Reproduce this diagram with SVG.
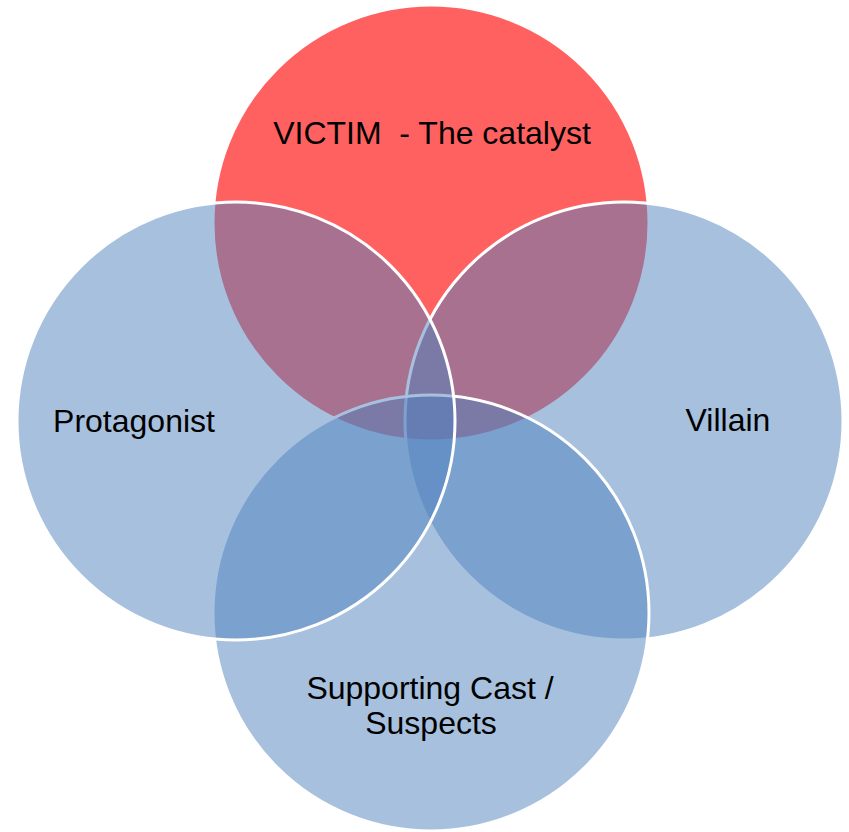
<svg xmlns="http://www.w3.org/2000/svg" width="849" height="832" viewBox="0 0 849 832">
  <style>
    .c { stroke: #FFFFFF; stroke-width: 3; }
    .blue { fill: rgb(79,129,189); fill-opacity: 0.5; }
    .red { fill: #FF6161; }
    .t { font-family: "Liberation Sans", Arial, sans-serif; font-size: 32px; fill: #000000; text-anchor: middle; }
  </style>
  <rect width="849" height="832" fill="#FFFFFF"/>
  <g id="victim">
    <circle class="c red" cx="431" cy="223" r="218"/>
  </g>
  <g id="villain">
    <circle class="c blue" cx="624" cy="421" r="219"/>
  </g>
  <g id="supporting">
    <circle class="c blue" cx="431" cy="613" r="218"/>
  </g>
  <g id="protagonist">
    <circle class="c blue" cx="236" cy="421" r="219"/>
  </g>
  <g id="labels">
    <text class="t" x="432" y="144" xml:space="preserve">VICTIM  - The catalyst</text>
    <text class="t" x="134" y="432">Protagonist</text>
    <text class="t" x="728" y="431">Villain</text>
    <text class="t" x="430" y="699">Supporting Cast /</text>
    <text class="t" x="431" y="734">Suspects</text>
  </g>
</svg>
